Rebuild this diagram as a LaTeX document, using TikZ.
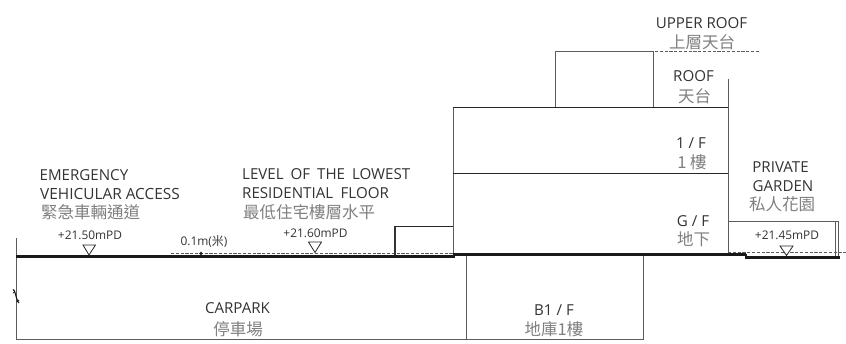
\documentclass[tikz,border=0pt]{standalone}
\usepackage{fontspec}
\setmainfont{Open Sans}
\newfontfamily\cjk{Noto Sans CJK TC}[Scale=1]
\definecolor{tx}{gray}{0.2}
\definecolor{cj}{gray}{0.5}
\definecolor{ln}{gray}{0.36}
\tikzset{
 en/.style={text=tx,font=\fontsize{15.1}{15.1}\selectfont,inner sep=0pt,anchor=base},
 enl/.style={en,anchor=base west},
 zh/.style={text=cj,font=\cjk\fontsize{16.5}{16.5}\selectfont,inner sep=0pt,anchor=base},
 zhl/.style={zh,anchor=base west},
 lvl/.style={text=tx,font=\fontsize{11.9}{11.9}\selectfont,inner sep=0pt,anchor=base},
 wall/.style={draw=ln,line width=1pt},
 slab/.style={draw=black!85,line width=0.9pt},
 heavy/.style={draw=black!90,line width=3pt},
 dsh/.style={draw=ln,line width=0.8pt,dash pattern=on 3.2pt off 1.6pt},
 tri/.style={draw=black!85,line width=0.8pt,fill=white,line join=miter},
}
\begin{document}
\begin{tikzpicture}[x=1pt,y=-1pt]
\useasboundingbox (0,0) rectangle (846,343);
\fill[white] (0,0) rectangle (846,343);
% dashed levels
\draw[dsh] (171,253) -- (453,253);
\draw[dsh] (728,252.5) -- (846,252.5);
\draw[dsh] (655,51.5) -- (760,51.5);
% basement + outer
\draw[wall] (16,238) -- (16,340);
\draw[wall,line width=1.1pt] (16,339.5) -- (643,339.5);
\draw[wall] (466,256) -- (466,339.5);
\draw[wall] (643,254) -- (643,339.5);
% building
\draw[wall] (453,107) -- (453,254);
\draw[wall] (728,79) -- (728,254);
\draw[slab] (453,107.5) -- (728,107.5);
\draw[slab] (453,173.5) -- (728,173.5);
\draw[wall] (555,107) -- (555,51.5) -- (653.5,51.5) -- (653.5,107);
% low step
\draw[slab] (395,226.5) -- (453,226.5);
\draw[draw=black!80,line width=1.4pt] (395,226) -- (395,255);
% garden
\draw[wall] (728,221.7) -- (838.4,221.7) -- (838.4,257);
\draw[wall] (835,221.7) -- (835,257);
% heavy ground
\draw[heavy] (16,256.7) -- (455,256.7);
\draw[heavy] (453,254) -- (726,254);
\draw[heavy] (726,254.7) -- (746,254.7);
\draw[heavy,line width=2.4pt] (746,257.5) -- (840,257.5);
\draw[draw=black!90,line width=1.2pt] (746,254) -- (746,258.5);
% break symbol
\draw[draw=black!90,line width=1.1pt] (13,289.5) -- (14.5,291) -- (17.5,301) -- (19,303);
\draw[draw=black!90,line width=0.8pt] (13,293) -- (15,291.5) (16.5,302) -- (19,300);
% triangles
\draw[tri] (83,245) -- (95.5,245) -- (89,255) -- cycle;
\draw[tri] (308.5,242) -- (321.5,242) -- (315,252.5) -- cycle;
\draw[tri] (780,246) -- (793,246) -- (786.5,255.5) -- cycle;
\fill[black!85] (201,253.5) circle (1.8pt);
% labels
\node[enl] (a1) at (39.5,180) {EMERGENCY};
\node[enl,font=\fontsize{15.4}{15.4}\selectfont] (a2) at (40,199) {VEHICULAR ACCESS};
\node[zhl] (a3) at (41,218) {緊急車輛通道};
\node[lvl] (a4) at (90,239) {+21.50mPD};
\node[lvl] (d1) at (204,245.5) {0.1m(\cjk 米\normalfont)};
\node[enl] (b1) at (242,179) {LEVEL\hspace{7pt}OF\hspace{7pt}THE\hspace{7pt}LOWEST};
\node[enl] (b2) at (242,198) {RESIDENTIAL\hspace{7.5pt}FLOOR};
\node[zhl] (b3) at (243,218) {最低住宅樓層水平};
\node[lvl] (b4) at (315.5,237) {+21.60mPD};
\node[en] (c1) at (701.5,28) {UPPER ROOF};
\node[zh] (c2) at (702,48) {上層天台};
\node[en] (c3) at (693.5,81.5) {ROOF};
\node[zh] (c4) at (694.5,102.5) {天台};
\node[en] (c5) at (691,148) {1 / F};
\node[zh] (c6) at (692,168.5) {1 樓};
\node[en] (c7) at (693,226) {G / F};
\node[zh] (c8) at (693.5,245.5) {地下};
\node[en] (g1) at (780.5,172.5) {PRIVATE};
\node[en] (g2) at (783,191.5) {GARDEN};
\node[zh] (g3) at (782,210.5) {私人花園};
\node[lvl] (g4) at (787,239.5) {+21.45mPD};
\node[en] (p1) at (237.5,313) {CARPARK};
\node[zh] (p2) at (238,335.5) {停車場};
\node[en] (q1) at (554,315) {B1 / F};
\node[zh] (q2) at (554,335.5) {地庫1樓};
\end{tikzpicture}
\end{document}
